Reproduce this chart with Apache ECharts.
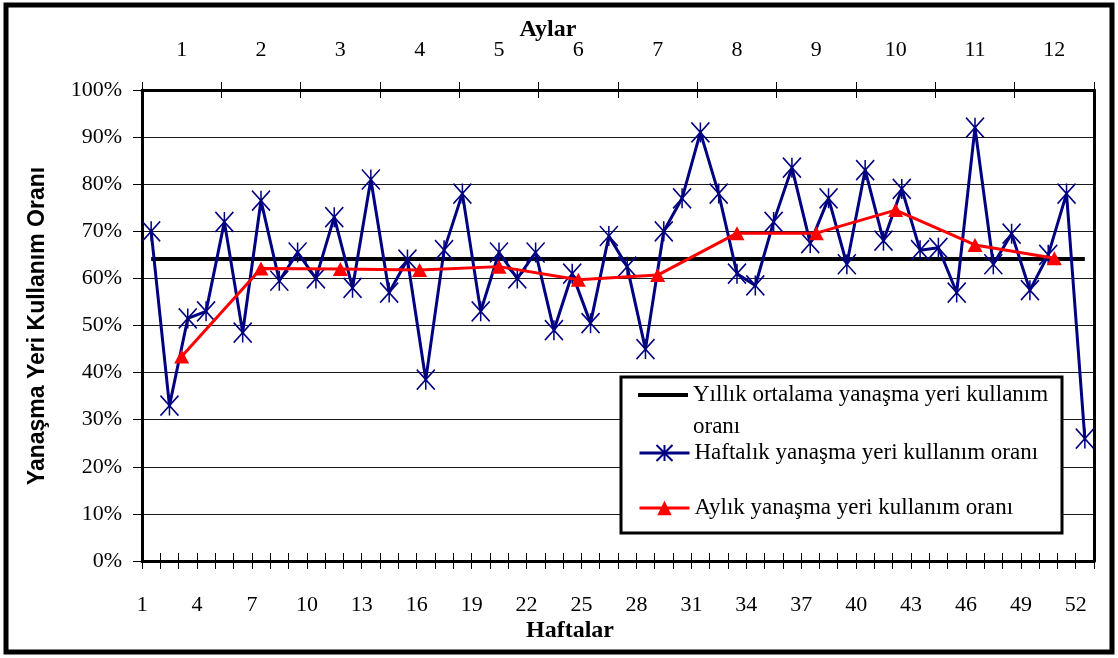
<!DOCTYPE html>
<html>
<head>
<meta charset="utf-8">
<script src="https://cdn.jsdelivr.net/npm/echarts/dist/echarts.min.js"></script>
<style>html,body{margin:0;padding:0;background:#fff}#c{width:1118px;height:658px}</style>
</head>
<body>
<div id="c"></div>
<script>
const weeks = ['1','2','3','4','5','6','7','8','9','10','11','12','13','14','15','16','17','18','19','20','21','22','23','24','25','26','27','28','29','30','31','32','33','34','35','36','37','38','39','40','41','42','43','44','45','46','47','48','49','50','51','52'];
const months = ['1','2','3','4','5','6','7','8','9','10','11','12'];
const weeklyRate = [70, 33, 51.5, 53, 72, 48.5, 76.5, 59.5, 65.5, 60, 73, 58, 81, 57, 64, 38.5, 66, 78, 53, 65.5, 60, 65.5, 49, 61, 50.5, 69, 62.5, 45, 70, 77, 91, 78, 61, 58.5, 72, 83.5, 67.5, 77, 63, 83, 68, 79, 66, 66.5, 57, 92, 63, 69.5, 57.5, 65, 78, 26];
const monthlyRate = [43.4, 62.1, 62, 61.8, 62.5, 59.7, 60.7, 69.6, 69.6, 74.5, 67.1, 64.3];
const annualAverage = 64.1;

const nameAvg = 'Yıllık ortalama yanaşma yeri kullanım oranı';
const nameWeek = 'Haftalık yanaşma yeri kullanım oranı';
const nameMonth = 'Aylık yanaşma yeri kullanım oranı';

const serif = 'Liberation Serif';
const tickText = {fontFamily: serif, fontSize: 22, color: '#000'};
const tickLine = {color: '#000', width: 1};

const chart = echarts.init(document.getElementById('c'), null, {renderer: 'canvas'});
const legendText = {fontFamily: serif, fontSize: 23, color: '#000'};
const option = {
  animation: false,
  backgroundColor: '#fff',
  grid: {left: 142, right: 24, top: 90, bottom: 97, containLabel: false},
  xAxis: [
    {type: 'category', data: weeks, position: 'bottom', boundaryGap: true,
     axisLine: {show: true, onZero: false, lineStyle: {color: '#000', width: 3}},
     axisTick: {show: true, interval: 0, length: 8, lineStyle: tickLine},
     axisLabel: Object.assign({interval: 2, margin: 33, padding: [0, 18, 0, 0]}, tickText),
     splitLine: {show: false}},
    {type: 'category', data: weeks, position: 'bottom', boundaryGap: true,
     axisLine: {show: false, onZero: false},
     axisTick: {show: true, inside: true, interval: 0, length: 8, lineStyle: tickLine},
     axisLabel: {show: false}, splitLine: {show: false}},
    {type: 'category', data: months, position: 'top', boundaryGap: true,
     axisLine: {show: true, onZero: false, lineStyle: {color: '#000', width: 3}},
     axisTick: {show: true, interval: 0, length: 8, lineStyle: tickLine},
     axisLabel: Object.assign({interval: 0, margin: 29}, tickText),
     splitLine: {show: false}},
    {type: 'category', data: months, position: 'top', boundaryGap: true,
     axisLine: {show: false, onZero: false},
     axisTick: {show: true, inside: true, interval: 0, length: 8, lineStyle: tickLine},
     axisLabel: {show: false}, splitLine: {show: false}}
  ],
  yAxis: [
    {type: 'value', min: 0, max: 100, interval: 10, position: 'left',
     axisLine: {show: true, onZero: false, lineStyle: {color: '#000', width: 3}},
     axisTick: {show: true, length: 9, lineStyle: tickLine},
     axisLabel: Object.assign({formatter: '{value}%', margin: 20}, tickText),
     splitLine: {show: true, lineStyle: {color: '#1a1a1a', width: 1}}},
    {type: 'value', min: 0, max: 100, interval: 10, position: 'right',
     axisLine: {show: true, onZero: false, lineStyle: {color: '#000', width: 3}},
     axisTick: {show: false}, axisLabel: {show: false}, splitLine: {show: false}}
  ],
  legend: [
    {data: [{name: nameAvg, icon: 'path://M0 0H50V4H0Z'}], left: 638, top: 347, orient: 'vertical', padding: 0,
     itemWidth: 50, itemHeight: 18, selectedMode: false, z: 20,
     formatter: function (n) { return '\nYıllık ortalama yanaşma yeri kullanım\noranı'; },
     textStyle: Object.assign({lineHeight: 32}, legendText)},
    {data: [nameWeek], left: 638, top: 439, orient: 'vertical', padding: 0, itemWidth: 50, itemHeight: 20,
     selectedMode: false, z: 20, lineStyle: {width: 3},
     textStyle: Object.assign({lineHeight: 28}, legendText)},
    {data: [nameMonth], left: 638, top: 494, orient: 'vertical', padding: 0, itemWidth: 50, itemHeight: 18,
     selectedMode: false, z: 20, lineStyle: {width: 3},
     textStyle: Object.assign({lineHeight: 28}, legendText)}
  ],
  graphic: [
    {type: 'rect', z: 100, silent: true, shape: {x: 6, y: 5, width: 1106, height: 647},
     style: {fill: 'none', stroke: '#000', lineWidth: 5}},
    {type: 'rect', z: 10, shape: {x: 621, y: 377, width: 441, height: 156},
     style: {fill: '#fff', stroke: '#000', lineWidth: 3}},
    {type: 'text', z: 10, x: 548, y: 30,
     style: {text: 'Aylar', fontFamily: serif, fontWeight: 'bold', fontSize: 24, fill: '#000', align: 'center', verticalAlign: 'middle'}},
    {type: 'text', z: 10, x: 570, y: 631,
     style: {text: 'Haftalar', fontFamily: serif, fontWeight: 'bold', fontSize: 24, fill: '#000', align: 'center', verticalAlign: 'middle'}},
    {type: 'text', z: 10, x: 38, y: 326, rotation: Math.PI / 2,
     style: {text: 'Yanaşma Yeri Kullanım Oranı', fontFamily: 'Liberation Sans', fontWeight: 'bold', fontSize: 23, fill: '#000', align: 'center', verticalAlign: 'middle'}}
  ],
  series: [
    {name: nameAvg, type: 'line', xAxisIndex: 0, yAxisIndex: 0, z: 2,
     data: [[weeks[0], annualAverage], [weeks[weeks.length - 1], annualAverage]],
     symbol: 'none', lineStyle: {color: '#000', width: 4}, itemStyle: {color: '#000'}},
    {name: nameWeek, type: 'line', xAxisIndex: 0, yAxisIndex: 0, z: 3,
     data: weeklyRate, showAllSymbol: true,
     symbol: 'path://M0 0L20 20M20 0L0 20M10 0L10 20', symbolSize: [18, 20],
     lineStyle: {color: '#000080', width: 3},
     itemStyle: {color: '#000080', borderColor: '#000080', borderWidth: 1.6}},
    {name: nameMonth, type: 'line', xAxisIndex: 2, yAxisIndex: 0, z: 4,
     data: monthlyRate, symbol: 'triangle', symbolSize: [15, 14],
     lineStyle: {color: '#ff0000', width: 3}, itemStyle: {color: '#ff0000'}}
  ]
};
chart.setOption(option);
</script>
</body>
</html>
